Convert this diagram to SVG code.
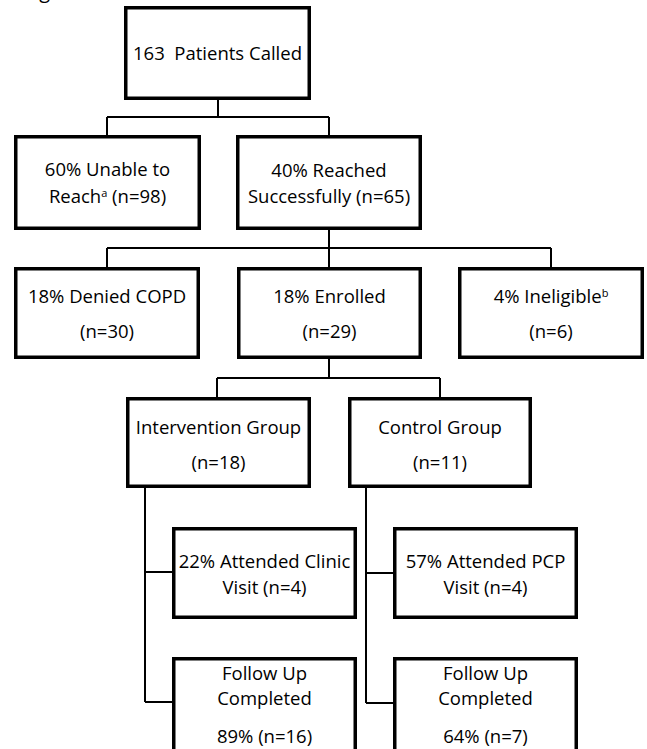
<svg xmlns="http://www.w3.org/2000/svg" width="647" height="749" viewBox="0 0 647 749">
<style>
.box{fill:#fff;stroke:#000;stroke-width:3.5}
.con{fill:none;stroke:#000;stroke-width:2}
text{font-family:"Open Sans","Liberation Sans",sans-serif;font-size:18.5px;fill:#000;text-anchor:middle}
.sup{font-size:11px}
</style>
<rect width="647" height="749" fill="#fff"/>
<text x="24" y="-2" style="text-anchor:start;font-size:20px">Figure</text>
<g id="connectors">
<path class="con" d="M218,100V117M107,117H329M107,117V135M329,117V135"/>
<path class="con" d="M329,230V248M107,248H551M107,248V267M329,248V267M551,248V267"/>
<path class="con" d="M329,359V378M217,378H440M217,378V397M440,378V397"/>
<path class="con" d="M145,488V702M145,572H172M145,702H172"/>
<path class="con" d="M366,488V703M366,573H393M366,703H393"/>
</g>
<g id="n1"><rect class="box" x="125.75" y="7.75" width="183.5" height="90.5"/><text x="217.5" y="60" xml:space="preserve">163  Patients Called</text></g>
<g id="n2a"><rect class="box" x="15.75" y="136.75" width="183.5" height="91.5"/><text x="107.5" y="176">60% Unable to</text><text x="107.5" y="203">Reach<tspan class="sup" dy="-6">a</tspan><tspan dy="6"> (n=98)</tspan></text></g>
<g id="n2b"><rect class="box" x="237.75" y="136.75" width="182.5" height="91.5"/><text x="329" y="177">40% Reached</text><text x="329" y="203">Successfully (n=65)</text></g>
<g id="n3a"><rect class="box" x="15.75" y="268.75" width="182.5" height="88.5"/><text x="107" y="303">18% Denied COPD</text><text x="107" y="338">(n=30)</text></g>
<g id="n3b"><rect class="box" x="238.75" y="268.75" width="181.5" height="88.5"/><text x="329.5" y="303">18% Enrolled</text><text x="329.5" y="338">(n=29)</text></g>
<g id="n3c"><rect class="box" x="459.75" y="268.75" width="182.5" height="88.5"/><text x="551" y="303">4% Ineligible<tspan class="sup" dy="-6">b</tspan></text><text x="551" y="338">(n=6)</text></g>
<g id="n4a"><rect class="box" x="127.75" y="398.75" width="181.5" height="87.5"/><text x="218.5" y="434">Intervention Group</text><text x="218.5" y="469">(n=18)</text></g>
<g id="n4b"><rect class="box" x="349.75" y="398.75" width="180.5" height="87.5"/><text x="440" y="434">Control Group</text><text x="440" y="469">(n=11)</text></g>
<g id="n5a"><rect class="box" x="173.75" y="528.75" width="181.5" height="88.5"/><text x="264.5" y="568">22% Attended Clinic</text><text x="264.5" y="594">Visit (n=4)</text></g>
<g id="n5b"><rect class="box" x="394.75" y="528.75" width="181.5" height="88.5"/><text x="485.5" y="568">57% Attended PCP</text><text x="485.5" y="594">Visit (n=4)</text></g>
<g id="n6a"><rect class="box" x="173.75" y="658.75" width="181.5" height="110"/><text x="264.5" y="680">Follow Up</text><text x="264.5" y="705">Completed</text><text x="264.5" y="743">89% (n=16)</text></g>
<g id="n6b"><rect class="box" x="394.75" y="658.75" width="181.5" height="110"/><text x="485.5" y="680">Follow Up</text><text x="485.5" y="705">Completed</text><text x="485.5" y="743">64% (n=7)</text></g>
</svg>
